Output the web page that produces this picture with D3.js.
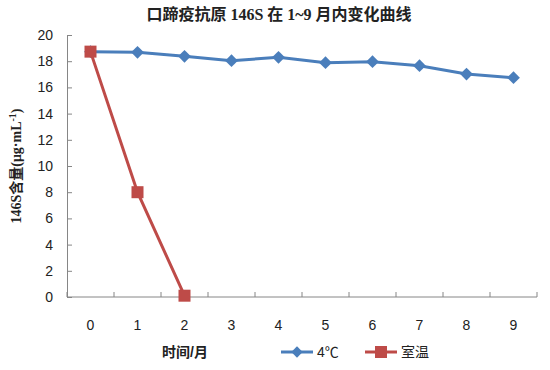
<!DOCTYPE html>
<html>
<head>
<meta charset="utf-8">
<script src="https://cdn.jsdelivr.net/npm/d3@7"></script>
<style>
  body { margin: 0; background: #fff; }
  svg text { fill: #222; }
</style>
</head>
<body>
<svg width="550" height="370"></svg>
<script>
var months = [0, 1, 2, 3, 4, 5, 6, 7, 8, 9];
var cold = [18.73, 18.68, 18.37, 18.04, 18.3, 17.89, 17.96, 17.66, 17.02, 16.74];
var roomMonths = [0, 1, 2];
var room = [18.73, 8.0, 0.1];
var yTicks = [0, 2, 4, 6, 8, 10, 12, 14, 16, 18, 20];

var svg = d3.select("svg");
var serif = "'Liberation Serif', 'Noto Sans CJK SC', serif";
var sans = "'Liberation Sans', 'Noto Sans CJK SC', sans-serif";

// scales
var x = d3.scaleBand().domain(months).range([67, 537]);
var y = d3.scaleLinear().domain([0, 20]).range([297, 35]);
var cx = function (m) { return x(m) + x.bandwidth() / 2; };

// y axis
var yAxis = svg.append("g")
    .attr("transform", "translate(67,0)")
    .call(d3.axisLeft(y).tickValues(yTicks).tickSizeInner(-5).tickSizeOuter(0).tickPadding(14));
yAxis.select(".domain").attr("stroke", "#868686");
yAxis.selectAll(".tick line").attr("stroke", "#868686");
yAxis.selectAll("text").attr("font-family", sans).attr("font-size", 14).attr("fill", "#333");

// x axis, ticks between categories
var xAxis = svg.append("g")
    .attr("transform", "translate(0,297)");
xAxis.append("line")
    .attr("x1", 67).attr("x2", 537)
    .attr("stroke", "#868686");
xAxis.selectAll(".sep")
    .data(months.concat([10]))
    .enter().append("line")
    .attr("x1", function (d) { return 67 + d * x.bandwidth(); })
    .attr("x2", function (d) { return 67 + d * x.bandwidth(); })
    .attr("y1", 0).attr("y2", -5)
    .attr("stroke", "#868686");
xAxis.selectAll(".lbl")
    .data(months)
    .enter().append("text")
    .attr("x", cx)
    .attr("y", 33)
    .attr("text-anchor", "middle")
    .attr("font-family", sans)
    .attr("font-size", 14)
    .attr("fill", "#333")
    .text(function (d) { return d; });

// lines
var line = d3.line()
    .x(function (d) { return cx(d[0]); })
    .y(function (d) { return y(d[1]); });

var coldData = months.map(function (m, i) { return [m, cold[i]]; });
var roomData = roomMonths.map(function (m, i) { return [m, room[i]]; });

svg.append("path")
    .datum(coldData)
    .attr("d", line)
    .attr("fill", "none")
    .attr("stroke", "#4a7ebb")
    .attr("stroke-width", 3);

svg.selectAll(".dia")
    .data(coldData)
    .enter().append("path")
    .attr("transform", function (d) { return "translate(" + cx(d[0]) + "," + y(d[1]) + ") rotate(45)"; })
    .attr("d", "M-4.5,-4.5h9v9h-9z")
    .attr("fill", "#4a7ebb");

svg.append("path")
    .datum(roomData)
    .attr("d", line)
    .attr("fill", "none")
    .attr("stroke", "#be4b48")
    .attr("stroke-width", 3);

svg.selectAll(".sq")
    .data(roomData)
    .enter().append("rect")
    .attr("x", function (d) { return cx(d[0]) - 6; })
    .attr("y", function (d) { return y(d[1]) - 6; })
    .attr("width", 12).attr("height", 12)
    .attr("fill", "#be4b48");

// title
svg.append("text")
    .attr("x", 279).attr("y", 20)
    .attr("text-anchor", "middle")
    .attr("font-family", serif)
    .attr("font-weight", "bold")
    .attr("font-size", 16)
    .text("口蹄疫抗原 146S 在 1~9 月内变化曲线");

// y title
var yt = svg.append("text")
    .attr("transform", "translate(21,166) rotate(-90)")
    .attr("text-anchor", "middle")
    .attr("font-family", serif)
    .attr("font-weight", "bold")
    .attr("font-size", 14);
yt.append("tspan").text("146S含量(μg·mL");
yt.append("tspan").attr("dy", -5).attr("font-size", 10).text("-1");
yt.append("tspan").attr("dy", 5).text(")");

// x title
svg.append("text")
    .attr("x", 185).attr("y", 357)
    .attr("text-anchor", "middle")
    .attr("font-family", sans)
    .attr("font-weight", "bold")
    .attr("font-size", 14)
    .text("时间/月");

// legend
var legend = [
  { name: "4℃", color: "#4a7ebb", shape: "diamond", x: 281 },
  { name: "室温", color: "#be4b48", shape: "square", x: 365 }
];
var lg = svg.selectAll(".lg").data(legend).enter().append("g")
    .attr("transform", function (d) { return "translate(" + d.x + ",352)"; });
lg.append("line")
    .attr("x1", 0).attr("x2", 32)
    .attr("stroke", function (d) { return d.color; })
    .attr("stroke-width", 3);
lg.append("path")
    .attr("transform", function (d) { return d.shape === "diamond" ? "translate(16,0) rotate(45)" : "translate(16,0)"; })
    .attr("d", function (d) { return d.shape === "diamond" ? "M-4,-4h8v8h-8z" : "M-6,-6h12v12h-12z"; })
    .attr("fill", function (d) { return d.color; });
lg.append("text")
    .attr("x", 36).attr("y", 5)
    .attr("font-family", sans)
    .attr("font-size", 14)
    .attr("fill", "#333")
    .text(function (d) { return d.name; });
</script>
</body>
</html>
